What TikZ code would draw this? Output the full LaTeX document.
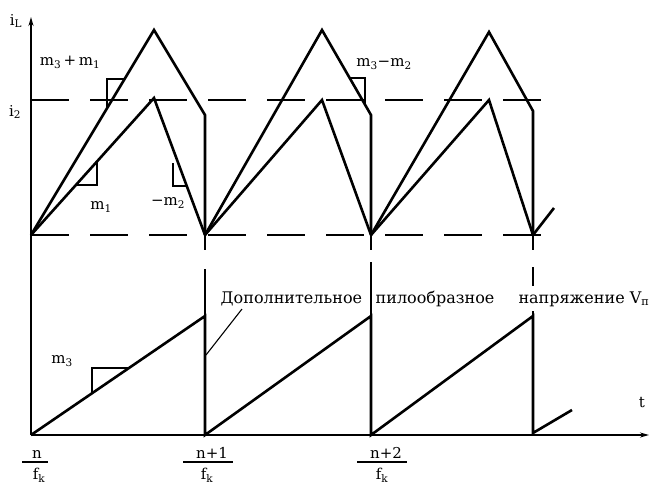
\documentclass[tikz,border=0pt]{standalone}
\usepackage{fontspec}
\setmainfont{DejaVu Serif}
\usetikzlibrary{arrows.meta,positioning}

\begin{document}
\begin{tikzpicture}[
x=1pt,y=-1pt,
wave/.style={line width=2.6pt,line join=miter},
axis/.style={line width=1.6pt},
guide/.style={line width=1.4pt,dash pattern=on 38pt off 21pt},
slope/.style={line width=1.1pt},
lbl/.style={font=\fontsize{15}{17}\selectfont,inner sep=1pt},
txt/.style={font=\fontsize{16}{18}\selectfont,fill=white,inner xsep=0.5pt,inner ysep=5pt},
arr/.style={-{Stealth[length=9pt,width=5pt]},axis}
]
\useasboundingbox (0,0) rectangle (649,483);

% axes
\coordinate (org) at (31,435);
\coordinate (ytip) at (31,17);
\coordinate (xtip) at (649,435);
\draw[arr] (org) -- (ytip);
\draw[arr] (org) -- (xtip);
\node[lbl] (iL) at (16,21) {i\textsubscript{L}};
\node[lbl] (itwo) at (15,112) {i\textsubscript{2}};
\node[lbl] (tlab) at (642,402) {t};

% dashed levels
\draw[guide] (31,100) -- (545,100);
\draw[guide] (31,235) -- (547,235);

% inductor current
\draw[wave] (31,235) -- (154,30) -- (205,115) -- (205,235);
\draw[wave] (31,235) -- (154,98) -- (205,235);
\draw[wave] (205,235) -- (322,30) -- (371,115) -- (371,235);
\draw[wave] (205,235) -- (322,100) -- (371,235);
\draw[wave] (371,235) -- (489,32) -- (533,111) -- (533,235);
\draw[wave] (371,235) -- (489,100) -- (533,235) -- (554,208);
\draw[axis] (205,235) -- (205,250); \draw[axis] (371,235) -- (371,250); \draw[axis] (533,235) -- (533,250);

% slope marks
\draw[slope] (107,108) -- (107,79) -- (125,79);
\draw[slope] (97,161) -- (97,185) -- (76,185);
\draw[slope] (173,163) -- (173,186) -- (186,186);
\draw[slope] (349,78) -- (365,78) -- (365,106);
\draw[slope] (92,393) -- (92,368) -- (128,368);
\node[lbl] (m31) at (70,62) {m\textsubscript{3}\,+\,m\textsubscript{1}};
\node[lbl] (m1) at (101,207) {m\textsubscript{1}};
\node[lbl] (m2) at (168,203) {−m\textsubscript{2}};
\node[lbl] (m32) at (384,64) {m\textsubscript{3}−m\textsubscript{2}};
\node[lbl] (m3) at (62,361) {m\textsubscript{3}};

% ramp
\draw[axis] (205,269) -- (205,316); \draw[axis] (371,262) -- (371,316); \draw[axis] (533,267) -- (533,316);
\draw[wave] (31,435) -- (205,316) -- (205,435) -- (371,316) -- (371,435) -- (533,316) -- (533,433) -- (572,410);
\node[txt,anchor=base west] (dop) at (220,303) {Дополнительное};
\node[txt,anchor=base west] (pil) at (375,303) {пилообразное};
\node[txt,anchor=base east] (nap) at (650,303) {напряжение V\textsubscript{п}};
\coordinate (ldrA) at (242,309);
\coordinate (ldrB) at (206,355);
\draw[slope] (ldrA) -- (ldrB);

% time marks
\node[lbl,anchor=base] (n0) at (37,458) {n};
\node[lbl,anchor=base] (f0) at (39,479) {f\textsubscript{k}};
\draw[slope] (22,462) -- (48,462);
\node[lbl,anchor=base] (n1) at (212,458) {n+1};
\node[lbl,anchor=base] (f1) at (207,479) {f\textsubscript{k}};
\draw[slope] (183,462) -- (233,462);
\node[lbl,anchor=base] (n2) at (386,458) {n+2};
\node[lbl,anchor=base] (f2) at (382,479) {f\textsubscript{k}};
\draw[slope] (357,462) -- (407,462);
\end{tikzpicture}
\end{document}
